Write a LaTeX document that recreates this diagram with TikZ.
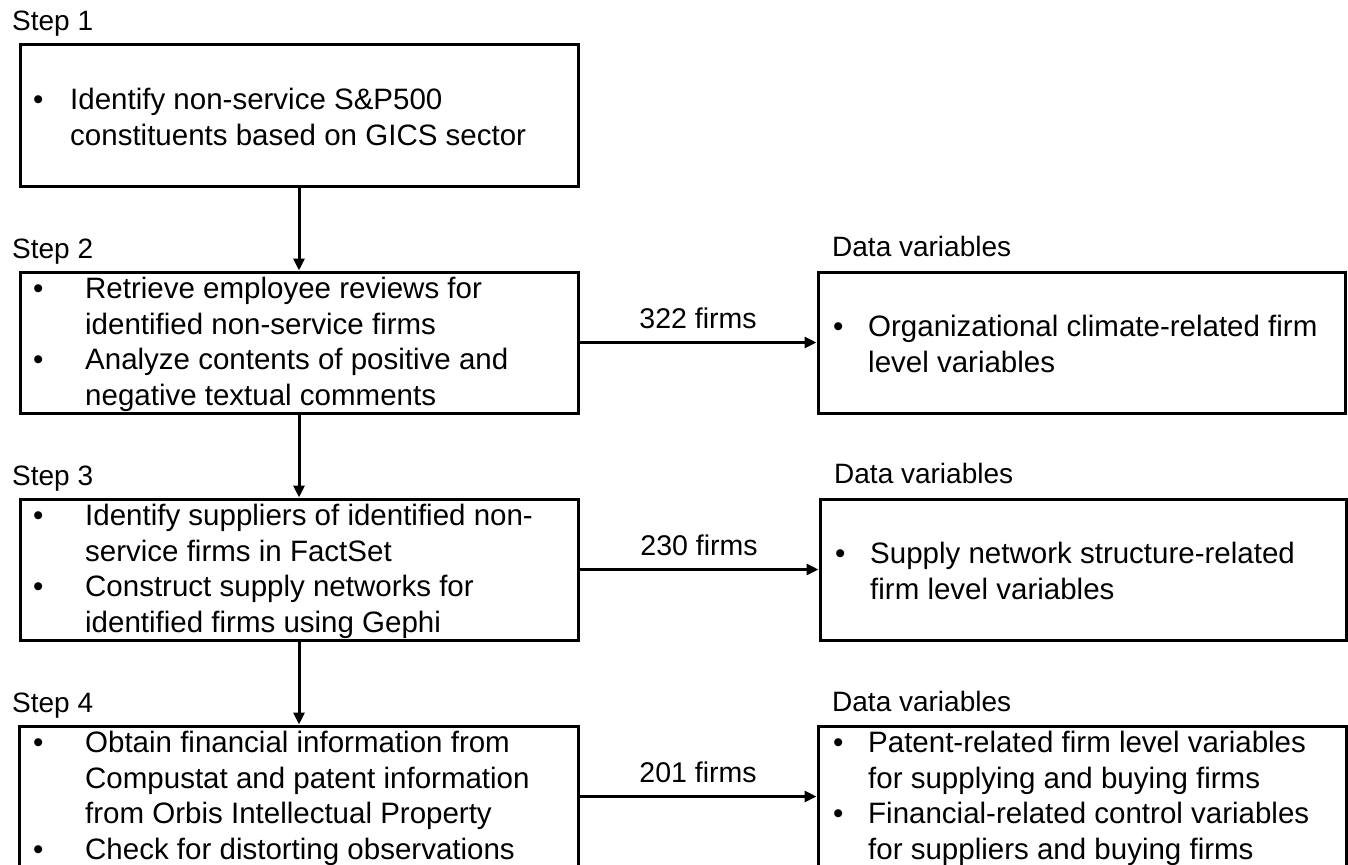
\documentclass[tikz,border=0pt]{standalone}
\usepackage{fontspec}
\setmainfont{Liberation Sans}
\usetikzlibrary{arrows.meta,calc}
\newcommand\bulA{\makebox[52pt][l]{\textbullet}}
\newcommand\indA{\hspace*{52pt}}
\newcommand\bulB{\makebox[37pt][l]{\textbullet}}
\newcommand\indB{\hspace*{37pt}}
\newcommand\bulC{\makebox[35pt][l]{\textbullet}}
\newcommand\indC{\hspace*{35pt}}
\begin{document}
\begin{tikzpicture}[x=1pt,y=-1pt,
  box/.style={draw,line width=3pt,minimum height=141pt,inner sep=0pt},
  txt/.style={anchor=west,align=left,inner sep=0pt,font=\fontsize{29.5}{35.7}\selectfont},
  lbl/.style={anchor=base west,inner sep=0pt,font=\fontsize{28}{30}\selectfont},
  arr/.style={line width=3pt,-{Triangle[length=12pt,width=11pt]}},
  num/.style={midway,above=12pt,inner sep=0pt,font=\fontsize{28.5}{30}\selectfont}]
\clip (0,0) rectangle (1348,864);
\fill[white] (0,0) rectangle (1348,864);

% left boxes
\node[box,minimum width=558pt] (b1) at (299,115.5) {};
\node[box,minimum width=558pt] (b2) at (299,342.5) {};
\node[box,minimum width=558pt] (b3) at (299,569.5) {};
\node[box,minimum width=559pt] (b4) at (298.5,796.5) {};
% right boxes
\node[box,minimum width=527pt] (r2) at (1081.5,342.5) {};
\node[box,minimum width=526pt] (r3) at (1083,569.5) {};
\node[box,minimum width=528pt] (r4) at (1082,796.5) {};

% labels
\node[lbl] (s1) at (12,31) {Step 1};
\node[lbl] (s2) at (12,258) {Step 2};
\node[lbl] (s3) at (12,485) {Step 3};
\node[lbl] (s4) at (12,712) {Step 4};
\node[lbl] (d2) at (832,256) {Data variables};
\node[lbl] (d3) at (834,483) {Data variables};
\node[lbl] (d4) at (832,711) {Data variables};

% texts
\node[txt] (t1) at (33,117) {\bulB Identify non-service S\&P500\\\indB constituents based on GICS sector};
\node[txt] (t2) at (33,344.5) {\bulA Retrieve employee reviews for\\\indA identified non-service firms\\\bulA Analyze contents of positive and\\\indA negative textual comments};
\node[txt] (t3) at (33,571.5) {\bulA Identify suppliers of identified non-\\\indA service firms in FactSet\\\bulA Construct supply networks for\\\indA identified firms using Gephi};
\node[txt] (t4) at (33,798.5) {\bulA Obtain financial information from\\\indA Compustat and patent information\\\indA from Orbis Intellectual Property\\\bulA Check for distorting observations};
\node[txt] (u2) at (833,344) {\bulC Organizational climate-related firm\\\indC level variables};
\node[txt] (u3) at (835,571) {\bulC Supply network structure-related\\\indC firm level variables};
\node[txt] (u4) at (833,798.5) {\bulC Patent-related firm level variables\\\indC for supplying and buying firms\\\bulC Financial-related control variables\\\indC for suppliers and buying firms};

% vertical arrows
\draw[arr] (b1.south) -- (b2.north);
\draw[arr] (b2.south) -- (b3.north);
\draw[arr] (b3.south) -- (b3.south |- b4.north);
% horizontal arrows
\draw[arr] (b2.east) -- (r2.west) node[num] (n2) {322 firms};
\draw[arr] (b3.east) -- (r3.west) node[num] (n3) {230 firms};
\draw[arr] (b4.east) -- (r4.west) node[num] (n4) {201 firms};
\end{tikzpicture}
\end{document}
